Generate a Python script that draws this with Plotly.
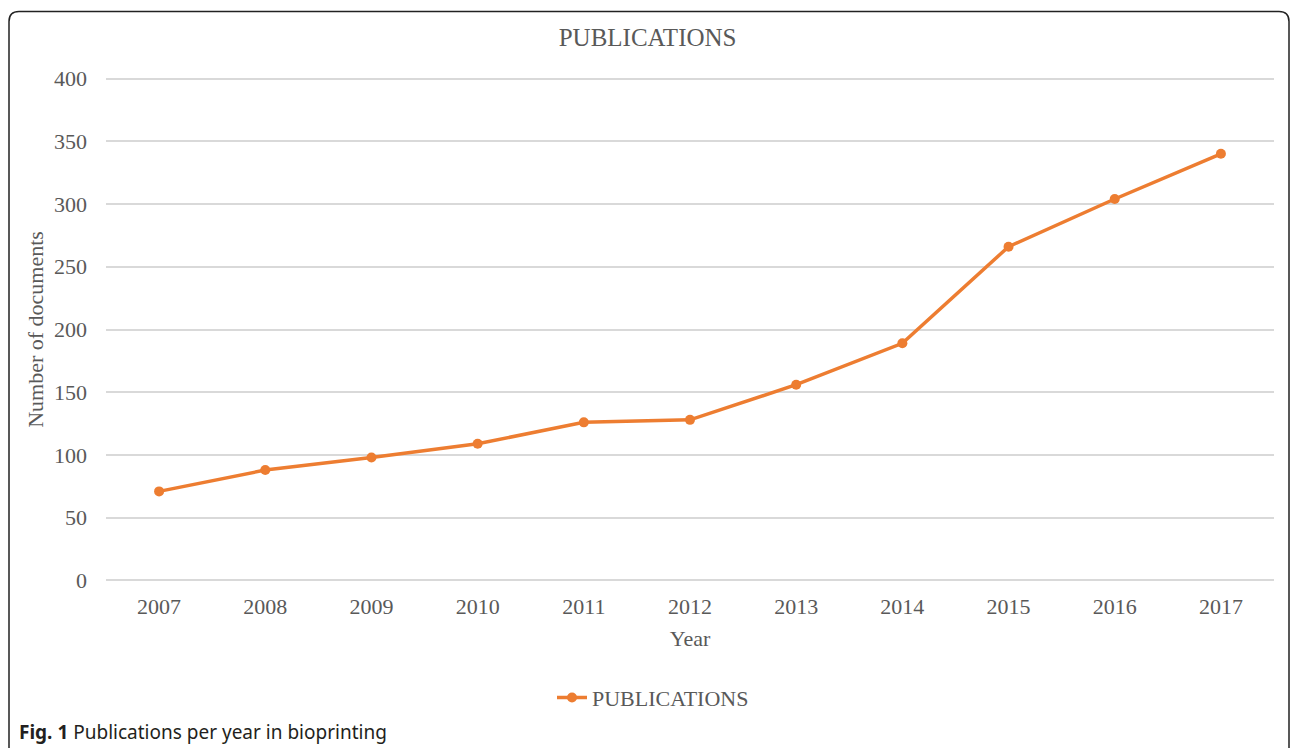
import plotly.graph_objects as go

years = ["2007", "2008", "2009", "2010", "2011", "2012", "2013", "2014", "2015", "2016", "2017"]
publications = [71, 88, 98, 109, 126, 128, 156, 189, 266, 304, 340]
y_ticks = [0, 50, 100, 150, 200, 250, 300, 350, 400]

W, H = 1290, 748
Y_MIN, Y_MAX = -2, 402
PX_PER_UNIT = 501 / 400
L, R = 106, 1274
B = 580 + (0 - Y_MIN) * PX_PER_UNIT
T = 580 - Y_MAX * PX_PER_UNIT
pw, ph = R - L, B - T

def px(x):
    return (x - L) / pw

def py(y):
    return (B - y) / ph

fig = go.Figure()
fig.add_trace(go.Scatter(
    x=years, y=publications, mode="lines+markers", name="PUBLICATIONS",
    line=dict(color="#ED7D31", width=3.5),
    marker=dict(color="#ED7D31", size=10),
))

serif = "Liberation Serif, Times New Roman, serif"
grey = "#595959"

fig.update_layout(
    width=W, height=H,
    margin=dict(l=L, r=W - R, t=T, b=H - B),
    paper_bgcolor="white", plot_bgcolor="white",
    font=dict(family=serif, size=22, color=grey),
    title=dict(text="PUBLICATIONS", x=0.502, xanchor="center", y=1 - 37.5 / H, yanchor="middle",
               font=dict(family=serif, size=25, color=grey)),
    showlegend=True,
    legend=dict(orientation="h", x=px(653), y=py(697), xanchor="center", yanchor="middle",
                font=dict(family=serif, size=22, color=grey), bgcolor="rgba(0,0,0,0)"),
    xaxis=dict(
        type="category", range=[-0.5, len(years) - 0.5],
        showgrid=False, zeroline=False, showline=False,
        ticks="", ticklabelstandoff=8,
        title=dict(text="Year", standoff=12, font=dict(family=serif, size=22, color=grey)),
        tickfont=dict(family=serif, size=22, color=grey),
    ),
    yaxis=dict(
        range=[Y_MIN, Y_MAX], tickvals=y_ticks, showgrid=True, gridcolor="#d9d9d9", gridwidth=1.5,
        zeroline=True, zerolinecolor="#d9d9d9", zerolinewidth=1.5, showline=False,
        ticks="", ticklabelstandoff=18,
        title=dict(text="Number of documents", standoff=4, font=dict(family=serif, size=22, color=grey)),
        tickfont=dict(family=serif, size=22, color=grey),
    ),
)

# rounded frame
x0, x1 = px(9), px(1289)
y1, y0 = py(12), py(770)
rx, ry = 10 / pw, 10 / ph
path = (f"M {x0},{y0} L {x0},{y1 - ry} Q {x0},{y1} {x0 + rx},{y1} "
        f"L {x1 - rx},{y1} Q {x1},{y1} {x1},{y1 - ry} L {x1},{y0} Z")
fig.add_shape(type="path", path=path, xref="paper", yref="paper",
              line=dict(color="#222222", width=1.5), fillcolor="rgba(0,0,0,0)", layer="below")

fig.add_annotation(
    text="<b>Fig. 1</b> Publications per year in bioprinting",
    xref="paper", yref="paper", x=px(17), y=py(731.5), xanchor="left", yanchor="middle",
    showarrow=False, font=dict(family="Noto Sans, Open Sans, sans-serif", size=19, color="#231f20"),
)

fig.write_html("out.html", config={"displayModeBar": False},
               post_script="document.body.style.margin='0';document.body.style.overflow='hidden';")
